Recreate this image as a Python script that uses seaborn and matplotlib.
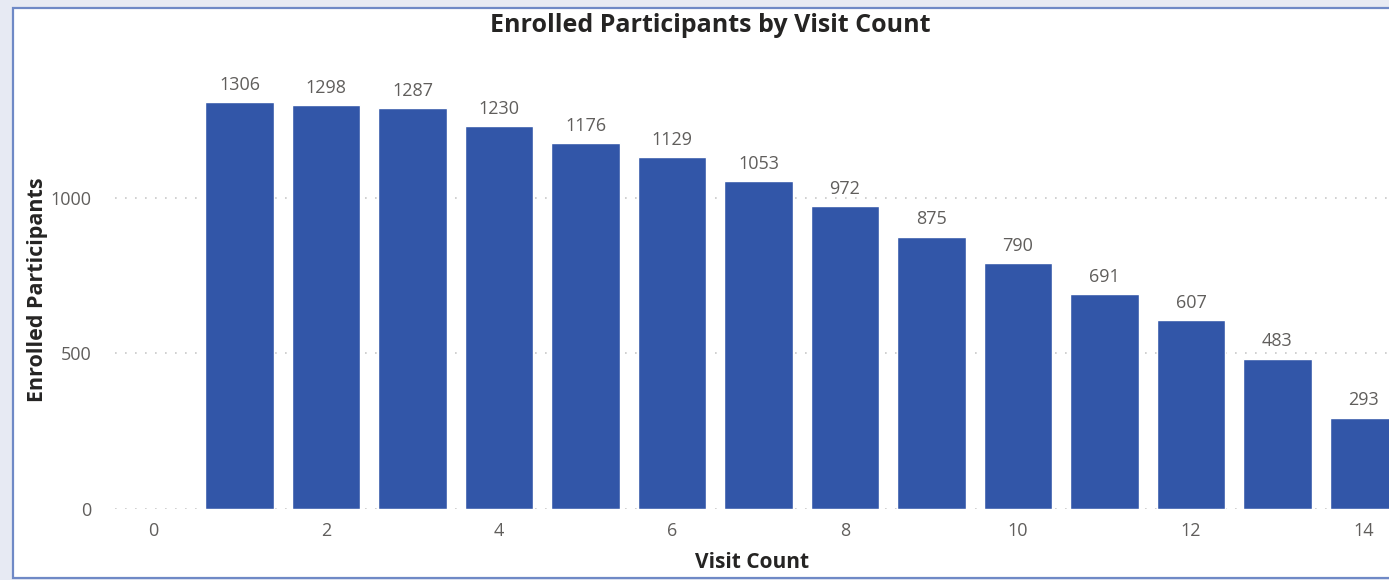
import matplotlib
matplotlib.use("Agg")
import matplotlib.pyplot as plt
from matplotlib.patches import Rectangle
import seaborn as sns
import pandas as pd

visit_counts = [1, 2, 3, 4, 5, 6, 7, 8, 9, 10, 11, 12, 13, 14]
participants = [1306, 1298, 1287, 1230, 1176, 1129, 1053, 972, 875, 790, 691, 607, 483, 293]
x_ticks = [0, 2, 4, 6, 8, 10, 12, 14]
y_ticks = [0, 500, 1000]

sns.set_theme(style="white")
plt.rcParams["font.family"] = ["Open Sans", "DejaVu Sans"]

W, H = 1389, 580
fig = plt.figure(figsize=(W / 100, H / 100), dpi=100)
fig.patch.set_facecolor("#e7eaf3")

# white card with a blue outline, kept behind the axes
card = Rectangle((13 / W, 2 / H), 1.2, (578 - 8) / H,
                 transform=fig.transFigure, facecolor="white",
                 edgecolor="#6f89c6", linewidth=1.6, zorder=-5)
fig.patches.append(card)

ax = fig.add_axes([115 / W, 1 - 509 / H, 1 - 115 / W, (509 - 70) / H])
ax.set_facecolor("none")
ax.set_zorder(2)

df = pd.DataFrame({"Visit Count": visit_counts, "Enrolled Participants": participants})
sns.barplot(data=df, x="Visit Count", y="Enrolled Participants", native_scale=True,
            color="#3256a8", saturation=1, width=0.79, ax=ax, zorder=3)

for c in ax.containers:
    ax.bar_label(c, labels=[str(v) for v in participants], padding=6,
                 fontsize=13, color="#605e5c")

ax.set_xlim(-0.44, 14.29)
ax.set_ylim(0, 1410)
ax.set_xticks(x_ticks)
ax.set_yticks(y_ticks)
ax.tick_params(axis="both", length=0, labelsize=13, labelcolor="#605e5c")
ax.tick_params(axis="x", pad=9)
ax.tick_params(axis="y", pad=17)

for v in y_ticks:
    ax.axhline(v, color="#c8c8c8", linestyle=(0, (1, 5)), linewidth=1.2, zorder=1)

for s in ax.spines.values():
    s.set_visible(False)

ax.set_xlabel("Visit Count", fontsize=15, fontweight="bold", color="#252423", labelpad=9)
ax.set_ylabel("Enrolled Participants", fontsize=15.5, fontweight="bold", color="#252423", labelpad=1.5)

fig.text(710 / W, 1 - 26 / H, "Enrolled Participants by Visit Count", ha="center", va="center",
         fontsize=18, fontweight="bold", color="#252423")

fig.savefig("out.png", dpi=100)
